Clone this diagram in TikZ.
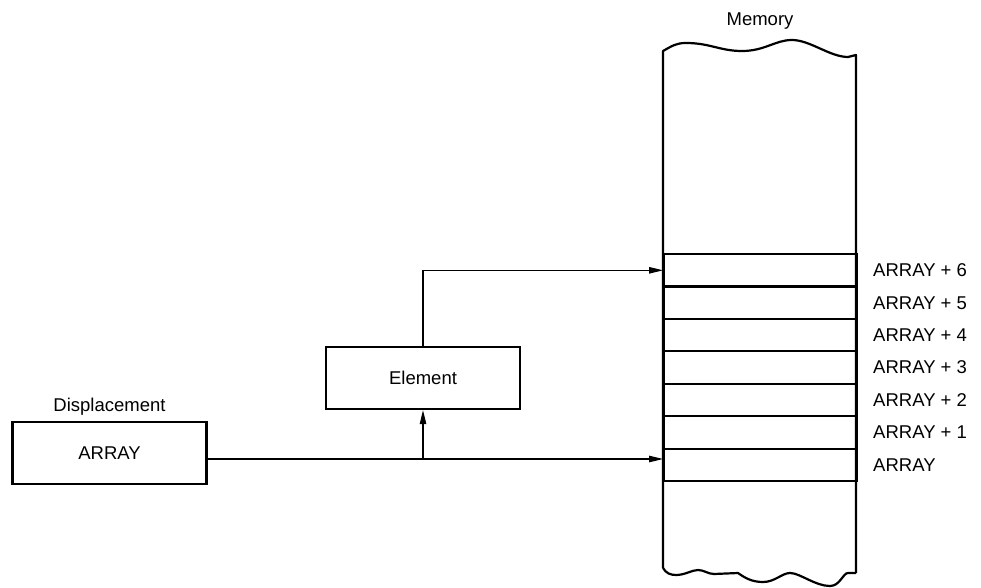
\documentclass[tikz,border=0pt]{standalone}
\usepackage{fontspec}
\setmainfont{Liberation Sans}
\usetikzlibrary{arrows.meta,positioning,calc}

\begin{document}
\begin{tikzpicture}[x=1pt, y=-1pt, >={Triangle[length=14pt,width=6.5pt]},
    font=\fontsize{18.5}{22}\selectfont,
    box/.style={draw, line width=2.4pt, minimum width=194pt, minimum height=62pt, inner sep=0pt},
    cell/.style={draw, line width=2.2pt, minimum width=193pt, minimum height=32.43pt, inner sep=0pt, anchor=north west},
    link/.style={->, line width=1.1pt}]
    \useasboundingbox (0,0) rectangle (981,588);

    % memory column with torn ends
    \draw[line width=2.2pt, line join=round]
      (663,568) -- (663,51) .. controls (672,46) and (676,43) .. (686,43)
      .. controls (710,43) and (720,51) .. (742,51)
      .. controls (765,51) and (775,40) .. (792,40)
      .. controls (810,40) and (830,57) .. (848,57) -- (856,55) -- (856,573);
    \draw[line width=2.2pt, line join=round]
      (663,568) .. controls (666,573) and (670,575) .. (676,575)
      .. controls (685,575) and (692,570) .. (698,570)
      .. controls (704,570) and (708,574) .. (714,574) -- (738,573)
      .. controls (745,578) and (752,582) .. (763,582)
      .. controls (775,582) and (782,573) .. (790,573)
      .. controls (800,573) and (815,586) .. (830,586)
      .. controls (840,586) and (843,573) .. (848,573) -- (856,573);
    \node[anchor=base] (memlbl) at (760,25.5) {Memory};

    \foreach \i in {0,...,6} {
      \node[cell] (r\i) at (663,{480-32.43*(\i+1)}) {};
    }
    \node[right=11.5pt of r0] (l0) {ARRAY};
    \foreach \i in {1,...,6} {
      \node[right=11.5pt of r\i] (l\i) {ARRAY + \i};
    }

    \node[box] (disp) at (109.5,453) {ARRAY};
    \node[above=2pt of disp] (displbl) {Displacement};
    \node[box] (elem) at (423,378) {Element};

    \coordinate (tap) at (423,459);
    \draw[link] (disp.east |- tap) -- (r0.west |- tap);
    \draw[link] (tap) -- (elem.south);
    \draw[link] (elem.north) |- (r6.west);
  \end{tikzpicture}
\end{document}
